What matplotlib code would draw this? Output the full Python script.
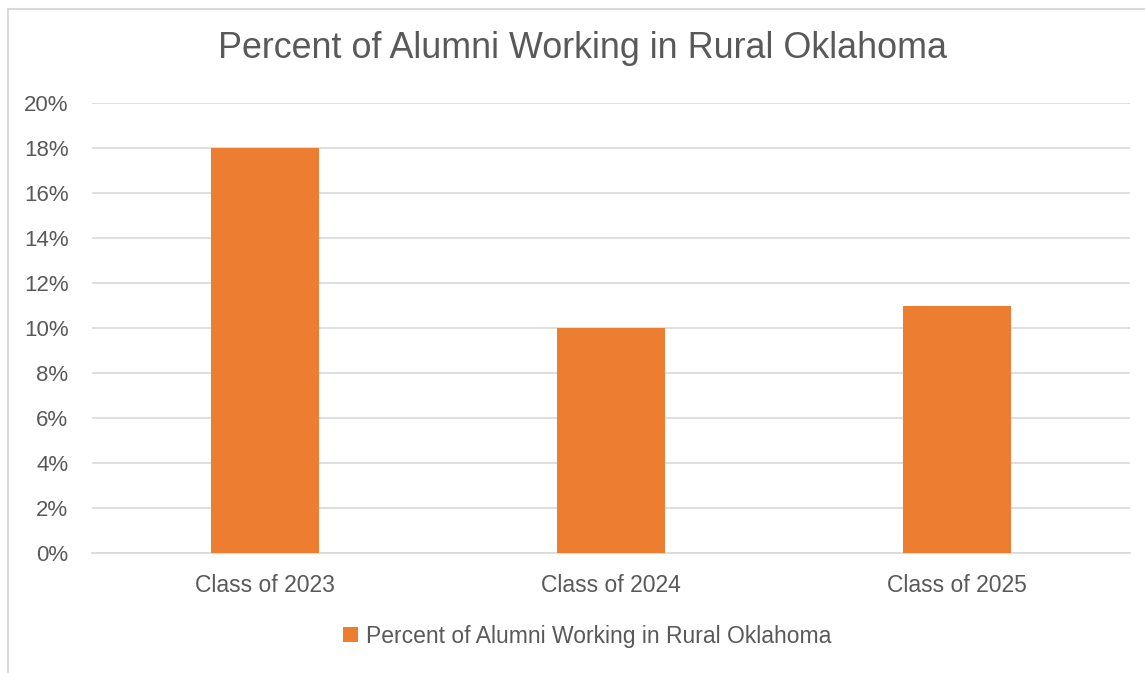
import numpy as np
import matplotlib.pyplot as plt
from matplotlib.patches import Rectangle

# datos
clases = ['Class of 2023', 'Class of 2024', 'Class of 2025']
porcentaje = [18, 10, 11]
serie = 'Percent of Alumni Working in Rural Oklahoma'
titulo = 'Percent of Alumni Working in Rural Oklahoma'

naranja = '#ED7D31'
gris_texto = '#595959'
gris_linea = '#D9D9D9'

plt.rcParams['font.family'] = ['Liberation Sans', 'DejaVu Sans']

fig = plt.figure(figsize=(11.45, 6.73), dpi=100)
W, H = 1145, 673

# borde del area del grafico
fig.patches.append(Rectangle((8 / W, -0.1), 1.2, (H - 9) / H + 0.1,
                             transform=fig.transFigure, fill=False,
                             edgecolor=gris_linea, linewidth=1.5))

ax = fig.add_axes([92 / W, (H - 553) / H, (1130 - 92) / W, (553 - 103) / H])
x = np.arange(len(clases))
ax.bar(x, porcentaje, width=0.312, color=naranja, zorder=3, label=serie)

ax.set_xlim(-0.5, len(clases) - 0.5)
ax.set_ylim(0, 20)
ax.set_yticks(np.arange(0, 21, 2))
ax.set_yticklabels(['{}%'.format(v) for v in range(0, 21, 2)])
ax.set_xticks(x)
ax.set_xticklabels(clases)
ax.grid(axis='y', color=gris_linea, linewidth=1.2, zorder=0)
for s in ['top', 'right', 'left']:
    ax.spines[s].set_visible(False)
ax.spines['bottom'].set_color(gris_linea)
ax.spines['bottom'].set_linewidth(1.2)
ax.tick_params(axis='y', length=0, labelsize=16, colors=gris_texto, pad=17)
ax.tick_params(axis='x', length=0, labelsize=16.5, colors=gris_texto, pad=15)

fig.text(582 / W, 1 - 49 / H, titulo, ha='center', va='center',
         fontsize=25.8, color=gris_texto)

leg = ax.legend(loc='center', bbox_to_anchor=(587 / W, 1 - 636 / H),
                bbox_transform=fig.transFigure, frameon=False,
                fontsize=16.5, handlelength=0.65, handleheight=0.65,
                handletextpad=0.35)
for t in leg.get_texts():
    t.set_color(gris_texto)

fig.savefig('out.png', dpi=100)
